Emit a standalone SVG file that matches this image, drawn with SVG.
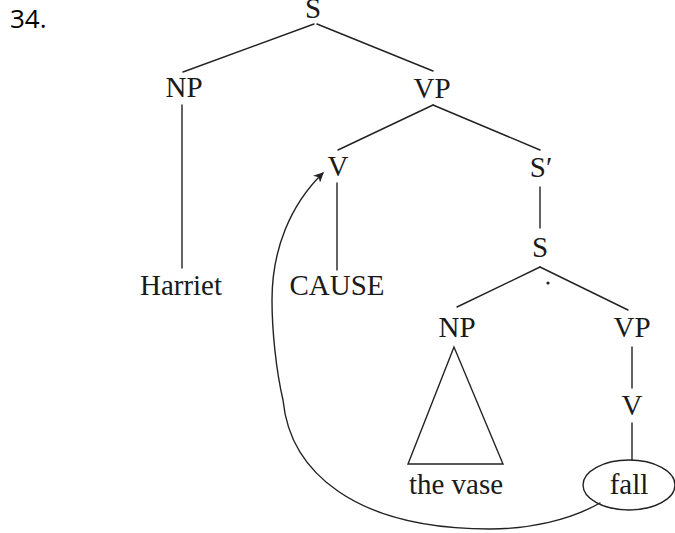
<svg xmlns="http://www.w3.org/2000/svg" width="675" height="533" viewBox="0 0 675 533">
  <style>
    .lbl { font-family: "Liberation Serif", "Times New Roman", serif; font-size: 29px; fill: #1a1a1a; text-anchor: middle; }
    .num { font-family: "Open Sans", "Liberation Sans", sans-serif; font-size: 26px; fill: #000; }
    .edge { stroke: #222; stroke-width: 1.4; fill: none; stroke-linecap: round; }
  </style>
  <defs>
    <marker id="arrow" viewBox="0 0 10 10" refX="9" refY="5" markerWidth="10" markerHeight="10" markerUnits="userSpaceOnUse" orient="auto">
      <path d="M0,0 L10,5 L0,10 L3,5 Z" fill="#222"/>
    </marker>
  </defs>
  <rect width="675" height="533" fill="#fff"/>
  <text class="num" x="10" y="28">34.</text>

  <g id="connectors">
    <line class="edge" x1="314" y1="24" x2="183" y2="72"/>
    <line class="edge" x1="317" y1="24" x2="433" y2="71"/>
    <line class="edge" x1="182" y1="105" x2="182" y2="268"/>
    <line class="edge" x1="433" y1="105" x2="338" y2="150"/>
    <line class="edge" x1="433" y1="105" x2="540" y2="150"/>
    <line class="edge" x1="337" y1="183" x2="337" y2="270"/>
    <line class="edge" x1="540" y1="187" x2="540" y2="228"/>
    <line class="edge" x1="540" y1="267" x2="457" y2="307"/>
    <line class="edge" x1="540" y1="267" x2="628" y2="310"/>
    <line class="edge" x1="632" y1="347" x2="632" y2="388"/>
    <line class="edge" x1="632" y1="423" x2="632" y2="460"/>
    <polygon class="edge" points="454,347 408,464 503,464"/>
    <path class="edge" d="M600,503 C570,520 530,529 490,529 C355,529 290,472 283,400 C276,370 272,330 272,300 C272,250 290,205 323,173" marker-end="url(#arrow)"/>
  </g>

  <g id="s-root"><text class="lbl" x="313" y="18">S</text></g>
  <g id="np-subj"><text class="lbl" x="184" y="97">NP</text></g>
  <g id="vp-main"><text class="lbl" x="432" y="98">VP</text></g>
  <g id="harriet"><text class="lbl" x="181" y="295">Harriet</text></g>
  <g id="v-cause"><text class="lbl" x="338" y="176">V</text></g>
  <g id="cause"><text class="lbl" x="337" y="295">CAUSE</text></g>
  <g id="s-bar"><text class="lbl" x="541" y="177">S′</text></g>
  <g id="s-emb">
    <text class="lbl" x="540" y="257">S</text>
    <circle cx="548" cy="283" r="1.6" fill="#222"/>
  </g>
  <g id="np-obj"><text class="lbl" x="457" y="337">NP</text></g>
  <g id="vp-emb"><text class="lbl" x="632" y="337">VP</text></g>
  <g id="the-vase"><text class="lbl" x="456" y="494">the vase</text></g>
  <g id="v-fall"><text class="lbl" x="632" y="415">V</text></g>
  <g id="fall">
    <ellipse cx="629" cy="485" rx="46" ry="25" fill="none" stroke="#222" stroke-width="1.4"/>
    <text class="lbl" x="629" y="494">fall</text>
  </g>
</svg>
